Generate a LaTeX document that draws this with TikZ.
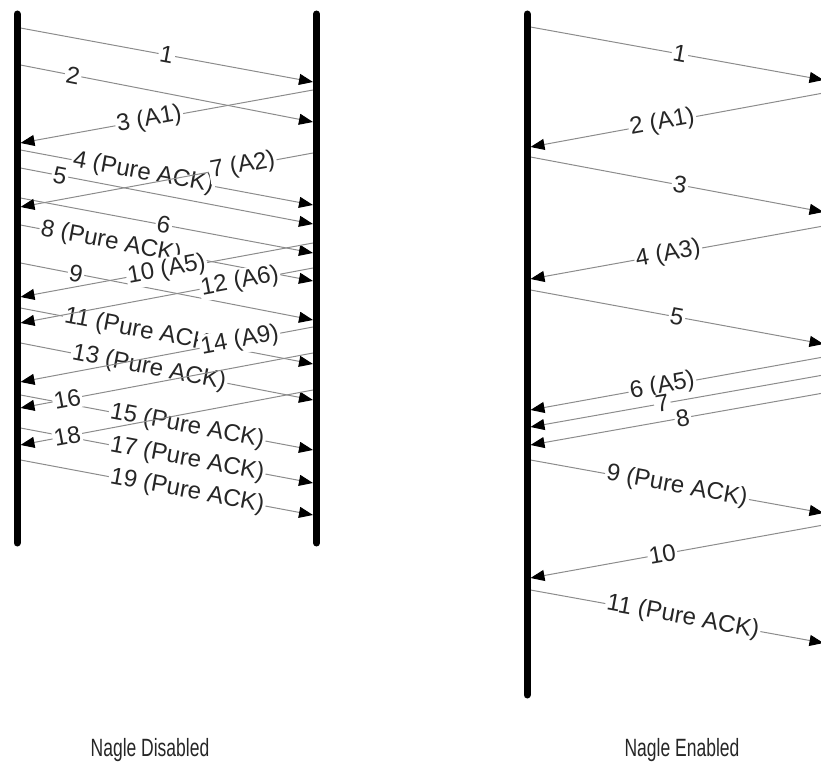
\documentclass[tikz,border=0pt]{standalone}
\usepackage{fontspec}
\setmainfont{Liberation Sans}
\newfontfamily\captionfont{Liberation Sans}[FakeStretch=0.7]
\usetikzlibrary{arrows.meta}

\begin{document}
\begin{tikzpicture}[
    x=0.5pt, y=-0.5pt,
    timeline/.style={line width=3.5pt, line cap=round},
    msg/.style={-{Triangle[length=7pt, width=5.5pt, black]}, draw=black!45, line width=0.5pt},
    lbl/.style={sloped, fill=white, inner sep=0.8pt, text=black!85, font=\fontsize{12}{14}\selectfont},
    caption/.style={font=\captionfont\fontsize{12.5}{14}\selectfont, text=black!85}
]
\clip (0,0) rectangle (821,765);

% Timelines
\coordinate (dL-top) at (17,14);    \coordinate (dL-bot) at (17,543);
\coordinate (dR-top) at (316.5,14); \coordinate (dR-bot) at (316.5,543);
\coordinate (eL-top) at (527,14);   \coordinate (eL-bot) at (527,695);
\coordinate (eR-top) at (827,14);   \coordinate (eR-bot) at (827,695);

% Nagle disabled: sent from the left
\coordinate (d1a) at (20.5,28);   \coordinate (d1b) at (313,82);
\coordinate (d2a) at (20.5,65);   \coordinate (d2b) at (313,122);
\coordinate (d4a) at (20.5,150);  \coordinate (d4b) at (313,205);
\coordinate (d5a) at (20.5,168);  \coordinate (d5b) at (313,224);
\coordinate (d6a) at (20.5,198);  \coordinate (d6b) at (313,253);
\coordinate (d8a) at (20.5,225);  \coordinate (d8b) at (313,281);
\coordinate (d9a) at (20.5,263);  \coordinate (d9b) at (313,320);
\coordinate (d11a) at (20.5,308); \coordinate (d11b) at (313,364);
\coordinate (d13a) at (20.5,343); \coordinate (d13b) at (313,400);
\coordinate (d15a) at (20.5,395); \coordinate (d15b) at (313,450);
\coordinate (d17a) at (20.5,428); \coordinate (d17b) at (313,483);
\coordinate (d19a) at (20.5,460); \coordinate (d19b) at (313,515);

\draw[msg] (d1a) -- node[lbl, pos=.5] {1} (d1b);
\draw[msg] (d2a) -- node[lbl, pos=.18] {2} (d2b);
\draw[msg] (d4a) -- node[lbl, pos=.42] {4 (Pure ACK)} (d4b);
\draw[msg] (d5a) -- node[lbl, pos=.135] {5} (d5b);
\draw[msg] (d6a) -- node[lbl, pos=.49] {6} (d6b);
\draw[msg] (d8a) -- node[lbl, pos=.31] {8 (Pure ACK)} (d8b);
\draw[msg] (d9a) -- node[lbl, pos=.19] {9} (d9b);
\draw[msg] (d11a) -- node[lbl, pos=.41] {11 (Pure ACK)} (d11b);
\draw[msg] (d13a) -- node[lbl, pos=.44] {13 (Pure ACK)} (d13b);
\draw[msg] (d15a) -- node[lbl, pos=.57] {15 (Pure ACK)} (d15b);
\draw[msg] (d17a) -- node[lbl, pos=.57] {17 (Pure ACK)} (d17b);
\draw[msg] (d19a) -- node[lbl, pos=.57] {19 (Pure ACK)} (d19b);

% Nagle disabled: sent from the right
\coordinate (d3b) at (313,90);   \coordinate (d3a) at (20.5,143);
\coordinate (d7b) at (313,153);  \coordinate (d7a) at (20.5,207);
\coordinate (d10b) at (313,243); \coordinate (d10a) at (20.5,297);
\coordinate (d12b) at (313,268); \coordinate (d12a) at (20.5,323);
\coordinate (d14b) at (313,327); \coordinate (d14a) at (20.5,382);
\coordinate (d16b) at (313,353); \coordinate (d16a) at (20.5,408);
\coordinate (d18b) at (313,390); \coordinate (d18a) at (20.5,445);

\draw[msg] (d3b) -- node[lbl, pos=.56] {3 (A1)} (d3a);
\draw[msg] (d7b) -- node[lbl, pos=.24] {7 (A2)} (d7a);
\draw[msg] (d10b) -- node[lbl, pos=.5] {10 (A5)} (d10a);
\draw[msg] (d12b) -- node[lbl, pos=.25] {12 (A6)} (d12a);
\draw[msg] (d14b) -- node[lbl, pos=.25] {14 (A9)} (d14a);
\draw[msg] (d16b) -- node[lbl, pos=.84] {16} (d16a);
\draw[msg] (d18b) -- node[lbl, pos=.84] {18} (d18a);

% Nagle enabled: sent from the left
\coordinate (e1a) at (530.5,27);  \coordinate (e1b) at (823.5,80);
\coordinate (e3a) at (530.5,157); \coordinate (e3b) at (823.5,212);
\coordinate (e5a) at (530.5,290); \coordinate (e5b) at (823.5,344);
\coordinate (e9a) at (530.5,460); \coordinate (e9b) at (823.5,513);
\coordinate (e11a) at (530.5,590); \coordinate (e11b) at (823.5,643);

\draw[msg] (e1a) -- node[lbl, pos=.51] {1} (e1b);
\draw[msg] (e3a) -- node[lbl, pos=.51] {3} (e3b);
\draw[msg] (e5a) -- node[lbl, pos=.5] {5} (e5b);
\draw[msg] (e9a) -- node[lbl, pos=.5] {9 (Pure ACK)} (e9b);
\draw[msg] (e11a) -- node[lbl, pos=.52] {11 (Pure ACK)} (e11b);

% Nagle enabled: sent from the right
\coordinate (e2b) at (823.5,93);   \coordinate (e2a) at (530.5,147);
\coordinate (e4b) at (823.5,226);  \coordinate (e4a) at (530.5,279);
\coordinate (e6b) at (823.5,357);  \coordinate (e6a) at (530.5,410);
\coordinate (e7b) at (823.5,375);  \coordinate (e7a) at (530.5,427);
\coordinate (e8b) at (823.5,393);  \coordinate (e8a) at (530.5,445);
\coordinate (e10b) at (823.5,525); \coordinate (e10a) at (530.5,578);

\draw[msg] (e2b) -- node[lbl, pos=.55] {2 (A1)} (e2a);
\draw[msg] (e4b) -- node[lbl, pos=.53] {4 (A3)} (e4a);
\draw[msg] (e6b) -- node[lbl, pos=.55] {6 (A5)} (e6a);
\draw[msg] (e7b) -- node[lbl, pos=.55] {7} (e7a);
\draw[msg] (e8b) -- node[lbl, pos=.48] {8} (e8a);
\draw[msg] (e10b) -- node[lbl, pos=.55] {10} (e10a);

% Hosts
\draw[timeline] (dL-top) -- (dL-bot);
\draw[timeline] (dR-top) -- (dR-bot);
\draw[timeline] (eL-top) -- (eL-bot);
\draw[timeline] (eR-top) -- (eR-bot);

% Captions
\node[caption] (disCaption) at (150,750) {Nagle Disabled};
\node[caption] (enCaption) at (682,750) {Nagle Enabled};

\end{tikzpicture}
\end{document}
